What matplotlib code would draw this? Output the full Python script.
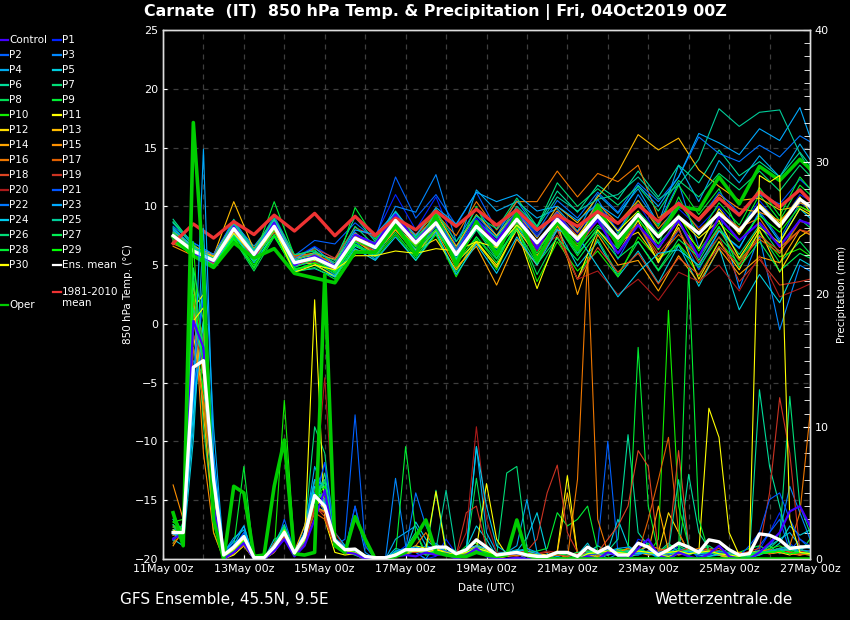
import matplotlib
matplotlib.use('Agg')
import matplotlib.pyplot as plt
from matplotlib.lines import Line2D
from matplotlib.ticker import MultipleLocator

# ---------------- data ----------------
# temperature: 12-hourly (06z/18z) from 11May 06z, last point 27May 00z ; days since 11May 00z
temp_days = [0.25 + 0.5 * i for i in range(32)] + [16.0]
# precipitation: 6-hourly from 11May 06z to 27May 00z
prcp_days = [0.25 + 0.25 * j for j in range(64)]

xtick_days = [0, 2, 4, 6, 8, 10, 12, 14, 16]
xtick_labels = ['11May 00z', '13May 00z', '15May 00z', '17May 00z', '19May 00z',
                '21May 00z', '23May 00z', '25May 00z', '27May 00z']

temp_mean = [7.5, 6.2, 5.4, 8.1, 5.9, 8.3, 5.2, 5.6, 4.8, 7.3, 6.5, 8.8, 6.9, 8.6, 5.9, 8.3,
             6.7, 8.9, 6.9, 8.9, 7.2, 9.2, 7.3, 9.3, 7.4, 9.1, 7.7, 9.4, 7.9, 10.0, 8.3, 10.6, 10.0]
temp_clim = [6.85, 8.5, 7.3, 8.7, 7.6, 9.25, 7.9, 9.4, 7.5, 9.15, 7.55, 9.0, 8.0, 9.6, 8.3, 9.75,
             8.4, 9.7, 8.0, 9.25, 8.3, 9.55, 8.55, 10.1, 8.7, 10.25, 8.85, 10.7, 9.25, 11.25, 9.95, 11.4, 10.5]
temp_oper = [7.4, 5.8, 4.8, 6.9, 5.6, 6.4, 4.3, 3.9, 3.5, 6.1, 6.1, 8.4, 5.9, 9.2, 5.0, 8.7,
             5.9, 9.4, 5.4, 8.7, 6.3, 10.1, 6.6, 9.4, 7.5, 10.0, 9.7, 12.5, 10.2, 13.4, 12.2, 14.0, 13.2]
temp_ctrl = [7.3, 6.0, 5.3, 8.3, 5.7, 8.6, 5.0, 5.8, 4.9, 7.6, 6.8, 9.3, 7.0, 8.9, 6.0, 8.8,
             7.0, 9.5, 6.4, 9.3, 7.0, 8.8, 6.0, 8.4, 6.5, 8.8, 5.7, 9.1, 7.1, 8.6, 6.6, 8.8, 8.5]
temp_p01 = [7.0, 6.0, 5.6, 8.4, 6.0, 8.8, 5.6, 6.6, 5.5, 8.0, 7.5, 11.0, 8.0, 10.8, 6.6, 9.0,
            7.0, 9.5, 7.6, 9.6, 7.7, 10.1, 8.0, 10.2, 7.6, 9.8, 8.2, 10.0, 8.0, 10.5, 8.4, 11.0, 10.5]
temp_p02 = [7.9, 6.6, 5.8, 8.7, 6.2, 9.2, 5.8, 7.1, 6.8, 8.6, 7.2, 12.5, 9.0, 11.0, 8.4, 11.2,
            8.0, 9.8, 6.6, 9.0, 6.0, 9.3, 5.5, 8.5, 5.2, 8.0, 4.6, 7.9, 6.4, 9.6, 7.2, 10.3, 9.8]
temp_p03 = [7.4, 6.4, 5.2, 7.8, 5.5, 8.0, 4.9, 5.3, 4.2, 7.0, 6.8, 10.0, 9.5, 12.7, 7.0, 9.8,
            7.5, 10.5, 8.0, 9.4, 7.0, 10.6, 7.7, 11.0, 8.5, 12.0, 6.5, 9.6, 3.0, 7.5, -0.5, 5.0, 4.5]
temp_p04 = [8.6, 6.9, 5.9, 8.6, 6.6, 8.8, 5.7, 5.9, 4.6, 7.8, 6.2, 9.0, 6.6, 8.4, 6.2, 11.4,
            9.6, 10.4, 9.0, 9.8, 7.9, 11.0, 9.4, 11.5, 8.5, 13.5, 10.4, 13.9, 12.0, 14.3, 12.5, 15.3, 14.0]
temp_p05 = [8.0, 6.3, 5.0, 7.6, 5.4, 7.9, 4.6, 5.0, 4.1, 6.6, 5.8, 8.2, 6.2, 7.9, 5.6, 8.0,
            6.4, 8.4, 5.6, 8.1, 4.9, 7.0, 4.0, 6.2, 3.5, 6.7, 3.2, 6.5, 1.2, 4.2, 1.8, 5.5, 5.0]
temp_p06 = [8.9, 6.7, 5.6, 8.9, 6.1, 8.5, 5.4, 6.1, 5.4, 9.1, 7.0, 9.6, 7.3, 9.2, 6.4, 8.7,
            7.4, 10.0, 8.3, 11.3, 9.5, 11.8, 10.6, 13.0, 10.8, 13.5, 12.0, 14.8, 12.6, 13.8, 12.5, 14.6, 13.5]
temp_p07 = [8.2, 6.5, 5.3, 8.0, 5.8, 8.2, 5.0, 5.6, 4.6, 7.1, 6.0, 8.5, 6.0, 8.0, 5.4, 8.0,
            5.6, 8.4, 6.2, 8.5, 6.0, 8.0, 6.4, 8.9, 6.8, 8.7, 5.4, 8.2, 5.9, 8.4, 6.0, 8.9, 8.2]
temp_p08 = [8.7, 6.8, 5.1, 7.2, 4.5, 7.4, 4.7, 5.0, 4.0, 7.4, 6.0, 8.2, 5.8, 7.6, 4.4, 7.4,
            5.5, 8.3, 4.2, 7.4, 3.8, 7.2, 4.2, 7.0, 4.5, 6.8, 4.8, 7.4, 5.5, 7.8, 5.2, 7.0, 6.0]
temp_p09 = [7.7, 6.1, 5.4, 8.2, 5.6, 10.4, 5.8, 6.3, 4.5, 9.9, 7.2, 9.4, 7.4, 9.8, 6.2, 10.0,
            6.4, 9.3, 5.5, 8.4, 5.8, 8.2, 7.6, 10.5, 8.3, 11.8, 9.3, 11.5, 7.8, 11.0, 8.8, 11.8, 11.0]
temp_p10 = [7.1, 5.9, 5.0, 7.4, 4.7, 8.0, 4.5, 5.2, 4.3, 6.8, 5.5, 7.6, 5.4, 7.6, 4.0, 7.2,
            4.6, 8.3, 3.6, 7.0, 4.5, 6.2, 4.0, 7.4, 5.5, 6.8, 4.1, 7.0, 5.1, 7.8, 5.7, 6.4, 5.8]
temp_p11 = [7.2, 6.2, 5.5, 8.0, 5.8, 7.9, 5.0, 5.4, 4.7, 7.0, 6.2, 8.4, 6.6, 8.4, 5.2, 7.0,
            5.0, 8.0, 3.0, 7.5, 3.8, 8.0, 6.0, 8.8, 5.2, 8.5, 6.4, 9.8, 7.6, 10.2, 8.6, 10.8, 9.5]
temp_p12 = [7.6, 6.4, 5.7, 8.3, 6.0, 8.5, 5.3, 5.1, 4.0, 6.3, 6.0, 8.0, 6.3, 7.2, 4.6, 6.9,
            4.8, 8.1, 5.8, 8.3, 6.6, 9.3, 7.0, 7.8, 5.4, 8.2, 3.8, 7.0, 4.6, 8.0, 4.4, 7.4, 8.0]
temp_p13 = [7.5, 6.3, 5.8, 10.4, 6.3, 8.6, 5.4, 6.0, 5.0, 7.7, 6.7, 9.0, 7.0, 9.4, 6.6, 9.3,
            7.5, 9.6, 7.3, 10.0, 8.6, 10.8, 12.9, 16.1, 14.8, 15.8, 13.1, 11.7, 10.5, 10.7, 9.7, 10.0, 9.5]
temp_p14 = [7.8, 6.6, 5.9, 8.5, 6.4, 8.9, 5.6, 5.8, 4.5, 7.1, 5.9, 8.0, 6.0, 7.9, 4.8, 6.6,
            3.3, 7.2, 5.0, 8.7, 2.5, 7.6, 5.0, 5.4, 2.8, 5.8, 3.5, 6.4, 4.2, 5.7, 5.2, 8.0, 7.6]
temp_p15 = [6.6, 5.8, 5.5, 8.3, 6.2, 8.2, 5.8, 6.0, 5.5, 7.5, 6.4, 8.2, 6.7, 8.3, 6.0, 8.5,
            6.5, 9.4, 7.4, 9.6, 7.8, 10.2, 8.6, 10.5, 8.1, 10.0, 9.0, 11.0, 9.8, 9.5, 8.8, 10.3, 10.0]
temp_p16 = [6.8, 6.1, 5.2, 8.0, 5.9, 8.5, 5.0, 5.5, 4.8, 7.3, 6.6, 8.3, 7.6, 9.4, 7.5, 10.4,
            8.0, 10.4, 10.4, 13.0, 10.8, 12.8, 12.1, 13.5, 9.0, 10.3, 8.0, 9.5, 8.2, 9.0, 6.5, 8.0, 7.6]
temp_p17 = [7.0, 6.0, 5.4, 7.8, 5.6, 7.8, 5.8, 5.9, 5.2, 7.2, 6.9, 8.6, 6.8, 8.0, 6.4, 8.1,
            6.9, 8.6, 6.4, 8.4, 6.5, 8.8, 6.7, 8.4, 5.7, 7.6, 5.8, 8.0, 5.4, 7.2, 6.0, 8.7, 8.6]
temp_p18 = [6.9, 6.2, 5.1, 7.9, 5.8, 8.3, 5.6, 6.4, 5.6, 8.2, 7.4, 9.2, 7.6, 9.0, 6.1, 8.5,
            6.9, 9.0, 5.3, 8.0, 3.8, 6.5, 4.4, 6.0, 3.4, 5.6, 4.2, 6.6, 5.0, 7.5, 6.2, 8.0, 7.8]
temp_p19 = [7.1, 6.3, 5.3, 8.1, 6.0, 8.0, 5.2, 5.6, 4.6, 7.2, 6.1, 8.6, 6.9, 8.5, 6.0, 8.4,
            6.8, 8.9, 6.5, 9.3, 7.5, 9.5, 6.9, 8.5, 6.0, 8.0, 5.2, 7.4, 3.6, 5.5, 3.3, 3.6, 3.8]
temp_p20 = [7.2, 6.1, 5.6, 8.0, 5.9, 8.4, 5.1, 5.3, 4.7, 7.0, 6.3, 8.9, 7.1, 8.9, 6.2, 8.6,
            7.1, 9.2, 6.2, 7.5, 3.8, 4.5, 2.5, 3.8, 2.0, 4.4, 3.6, 5.0, 2.8, 5.8, 2.3, 3.0, 3.4]
temp_p21 = [7.6, 6.3, 5.4, 8.2, 5.9, 8.3, 5.1, 5.6, 4.7, 7.3, 6.3, 8.8, 6.8, 9.1, 6.3, 9.2,
            7.3, 9.6, 7.4, 9.5, 7.2, 9.0, 6.7, 9.6, 7.7, 10.4, 8.7, 11.2, 9.4, 11.0, 10.2, 12.3, 11.5]
temp_p22 = [8.3, 6.9, 5.9, 8.8, 6.3, 8.6, 5.3, 5.8, 4.4, 7.0, 5.5, 8.6, 6.2, 8.3, 5.5, 8.2,
            6.2, 9.4, 7.8, 10.5, 9.0, 11.2, 9.5, 12.0, 10.4, 12.5, 15.9, 14.5, 13.8, 15.2, 14.2, 16.0, 15.5]
temp_p23 = [8.1, 6.5, 5.5, 8.5, 6.2, 8.9, 5.5, 6.5, 5.0, 8.0, 7.6, 9.5, 7.5, 9.9, 8.5, 11.2,
            10.4, 11.0, 9.6, 10.0, 8.8, 10.2, 9.0, 11.8, 10.0, 12.5, 16.2, 15.4, 14.4, 16.6, 15.6, 18.4, 15.9]
temp_p24 = [7.4, 6.0, 5.0, 7.7, 5.2, 7.6, 4.5, 4.7, 4.0, 6.4, 5.4, 7.4, 5.4, 7.8, 4.2, 6.8,
            4.3, 7.4, 5.0, 8.0, 7.5, 4.9, 2.3, 4.4, 6.0, 6.3, 5.0, 7.9, 6.5, 9.4, 7.0, 9.8, 9.0]
temp_p25 = [8.6, 6.6, 5.4, 8.3, 6.0, 8.4, 5.4, 6.0, 4.8, 7.6, 6.9, 9.1, 7.2, 9.0, 6.2, 8.8,
            7.3, 9.6, 8.2, 10.8, 9.6, 10.6, 11.0, 12.5, 10.6, 11.8, 14.0, 18.3, 16.8, 18.0, 18.2, 14.5, 13.0]
temp_p26 = [7.8, 6.4, 5.6, 8.6, 6.3, 9.0, 5.9, 6.2, 5.2, 8.3, 6.6, 9.0, 6.8, 9.5, 7.0, 9.2,
            8.1, 10.7, 8.3, 12.0, 10.0, 11.5, 10.1, 11.7, 9.6, 12.2, 10.8, 12.8, 11.4, 13.0, 11.3, 13.5, 12.6]
temp_p27 = [7.3, 5.9, 4.9, 7.5, 5.3, 8.0, 4.8, 5.5, 4.4, 6.8, 5.9, 8.2, 6.4, 8.0, 5.5, 8.1,
            5.9, 8.0, 5.1, 7.3, 5.4, 7.8, 5.6, 7.0, 4.6, 7.2, 5.7, 8.3, 4.8, 7.0, 4.5, 6.0, 5.6]
temp_p28 = [7.2, 5.7, 4.8, 7.2, 4.8, 7.6, 4.4, 4.8, 3.8, 6.7, 5.7, 7.8, 5.6, 8.1, 5.2, 7.4,
            5.2, 8.6, 6.0, 8.9, 6.4, 8.4, 7.1, 9.3, 6.8, 10.8, 7.5, 10.3, 8.4, 11.6, 9.2, 12.5, 11.5]
temp_p29 = [7.0, 5.8, 5.0, 7.3, 5.0, 7.5, 4.6, 5.2, 4.5, 7.0, 6.4, 8.2, 6.6, 8.7, 5.8, 8.5,
            6.0, 9.0, 6.9, 8.7, 6.8, 9.4, 7.4, 9.0, 6.3, 9.3, 6.2, 8.6, 7.0, 9.2, 7.8, 10.0, 9.6]
temp_p30 = [7.5, 6.2, 5.4, 7.7, 5.8, 8.1, 4.4, 5.0, 4.6, 5.8, 5.8, 6.2, 6.0, 6.4, 6.2, 7.0,
            6.5, 8.4, 6.8, 8.9, 7.4, 9.8, 7.9, 9.6, 6.4, 9.0, 7.3, 8.8, 5.6, 8.2, 6.9, 9.8, 9.3]

prcp_mean = [2.0, 2.0, 14.5, 15.0, 6.0, 0.3, 0.9, 1.7, 0.1, 0.1, 0.9, 2.0, 0.45, 1.7, 4.8, 4.0,
             1.4, 0.7, 0.75, 0.2, 0.1, 0.1, 0.3, 0.7, 0.7, 0.7, 0.9, 0.9, 0.4, 0.7, 1.45, 0.9,
             0.3, 0.4, 0.5, 0.3, 0.2, 0.2, 0.5, 0.5, 0.2, 0.9, 0.5, 0.9, 0.3, 0.3, 1.2, 0.9,
             0.3, 0.7, 1.2, 0.9, 0.5, 1.45, 1.3, 0.7, 0.3, 0.4, 1.9, 1.8, 1.45, 0.8, 0.9, 0.95]
prcp_oper = [3.5, 1.0, 33, 22, 3, 0, 5.5, 5, 0.2, 0.3, 5.5, 9, 0.4, 0.3, 0.5, 21.5,
             1, 0.5, 3.2, 1.5, 0, 0, 0.2, 0.5, 1.7, 2.95, 0.5, 0.3, 0.2, 0.2, 0.5, 0.3,
             0.2, 0.3, 2.95, 0.3, 0, 0, 0, 0, 0, 0, 0, 0, 0, 0, 0, 0,
             0, 0, 0, 0, 0, 0, 0, 0, 0, 0, 0, 0, 0, 0, 0, 0]
prcp_ctrl = [1.5, 2, 18, 16, 4, 0, 0.5, 1.2, 0, 0, 0.6, 1.5, 0.2, 1, 3, 5.2,
             1, 0.5, 0.4, 0, 0, 0, 0.2, 0.3, 0.2, 0.5, 0.3, 0.4, 0, 0.3, 0.8, 0.2,
             0, 0, 0.1, 0, 0, 0, 0, 0, 0, 0.2, 0, 0.5, 0.3, 0, 0.8, 1.5,
             0.3, 0, 0.5, 0.2, 0, 0.4, 1, 0.2, 0, 0, 0.5, 1.2, 2, 3.6, 4, 2.5]
prcp_p01 = [2.5, 1.5, 12, 20, 8, 0.3, 1, 2, 0, 0, 1.2, 2.5, 0.4, 2, 4, 7.3,
            2, 1, 0.5, 0, 0, 0, 0.4, 1, 0.5, 0, 0.2, 1.5, 0.4, 0.3, 0.6, 0.4,
            0, 0, 0, 0, 0.2, 0, 0, 0, 0, 0, 0, 0.4, 0.6, 0, 1.5, 1.2,
            0, 0.4, 1, 0.6, 0.2, 0.3, 0.5, 0, 0, 0.3, 0.7, 2, 3.5, 1.2, 0.5, 0.3]
prcp_p02 = [1.8, 2.2, 15, 14, 3, 0, 0.8, 2, 0, 0, 0.5, 3, 0.6, 1.5, 5, 3.5,
            1, 1.5, 10.9, 1, 0, 0, 0.6, 0.3, 0.6, 1, 0.8, 0.3, 0.2, 0.4, 0.8, 0.3,
            0.2, 0.3, 0.4, 0, 0, 0, 0, 0.2, 0, 0.3, 1, 8.9, 0.5, 0.2, 0.4, 0.6,
            0, 0.3, 0.5, 1, 0, 0.5, 0.4, 0, 0, 0, 1, 2, 3, 0.6, 1.5, 0.8]
prcp_p03 = [2.2, 1.6, 13, 17, 6, 0.4, 1.3, 1.5, 0, 0.2, 0.8, 2, 0.3, 2.5, 6, 4,
            1.5, 0.6, 4, 0.5, 0, 0, 6.1, 1, 0.5, 0, 1.2, 0.5, 0.2, 0.5, 0.8, 0.4,
            0.3, 0.2, 0.3, 0.5, 0, 0, 0, 0, 0, 0.6, 0, 0.8, 0.2, 0, 0.5, 1,
            0, 0, 0.7, 0.6, 0.5, 0.8, 0.3, 0, 0.2, 0, 0.4, 1, 2, 5.5, 3.5, 1.5]
prcp_p04 = [3, 2, 10, 25, 10, 0.5, 1.6, 2.2, 0, 0, 1, 2.2, 0.5, 2, 7, 5,
            1.2, 0.8, 0.6, 0, 0, 0, 1.5, 2, 2.5, 1, 0.6, 0.8, 0.5, 0.7, 8.5, 2,
            0.5, 0.5, 1, 4.5, 0.5, 0, 0.2, 0, 0, 0.5, 0.6, 0, 0.4, 0.3, 0.5, 1,
            0.3, 0.5, 0.6, 0.4, 0.5, 0.2, 0.3, 0, 0, 0.2, 0.4, 1, 1.5, 2, 1, 0.8]
prcp_p05 = [1.5, 1, 9, 22, 7, 0.2, 1, 2.5, 0, 0, 1.5, 1.8, 0.3, 1.6, 5, 4,
            2, 1, 0.3, 0, 0, 0, 0.8, 0.6, 2.8, 1.5, 0.8, 0.6, 0.4, 0.8, 2.5, 1.5,
            0.2, 0.4, 0.6, 1.6, 3.5, 0.4, 0, 0, 0.3, 1.2, 0, 0.6, 3, 1, 0.5, 0.4,
            0.2, 0.5, 0.8, 0.6, 0.3, 0.2, 0.4, 0.2, 0, 0.1, 0.3, 0.6, 1.2, 2.5, 1.8, 2.2]
prcp_p06 = [1.4, 2.5, 16, 13, 5, 0, 0.6, 1, 0, 0, 1.2, 2.6, 0.6, 1, 3.8, 6.5,
            1.5, 0.5, 0.4, 0, 0, 0, 0.3, 0.5, 0.8, 0.4, 0.5, 0.9, 0.6, 0.4, 1, 0.8,
            0, 0.3, 0.5, 0.4, 0.2, 0, 0, 0, 0, 0.5, 1, 0.6, 1.5, 9.4, 2, 1,
            0.5, 1.2, 0.5, 6.4, 2, 0.8, 0.6, 0, 0, 0.2, 12.8, 7, 4, 1, 0.5, 0.4]
prcp_p07 = [2.6, 1.2, 14, 18, 5, 0, 0.4, 1.8, 0, 0, 0.8, 1.5, 0.3, 2, 10, 8,
            1.5, 0.6, 0.8, 0.3, 0, 0, 0.5, 0.8, 2, 0.3, 5.2, 0.8, 0.2, 0.4, 1, 0.6,
            0.3, 6.5, 7, 0.8, 0.2, 0, 0, 0, 0, 0.3, 0.5, 0.4, 0.5, 0.2, 0.3, 0.6,
            0.2, 0, 0.4, 0.3, 0.6, 1, 0.5, 0, 0.2, 0.4, 0.3, 0.8, 1.5, 12.3, 4, 2]
prcp_p08 = [1.2, 2.8, 22, 10, 3, 0, 0.7, 1, 0, 0, 0.5, 2, 0.5, 1.4, 4, 3.5,
            1, 0.5, 0.3, 0, 0, 0, 0.2, 0.4, 0.6, 0.3, 0.4, 0.8, 0.3, 0.5, 6.1, 1,
            0, 0.4, 0.6, 0.3, 0, 0, 0, 0.2, 0, 0.6, 0.5, 0.3, 0.8, 0.4, 0.5, 1.2,
            0.4, 0.2, 0.5, 0.3, 0.7, 0.6, 0.4, 0.8, 0.3, 0.2, 0.6, 1, 0.4, 0.8, 0.5, 1.5]
prcp_p09 = [3.5, 1.8, 20, 15, 4, 0.2, 1, 7, 0, 0, 1, 2.2, 0.4, 1.2, 5, 6,
            1, 0.4, 0.5, 0.2, 0, 0, 0.3, 8.5, 2, 0.5, 0.6, 0.4, 0.3, 1, 1.2, 0.5,
            0.2, 0.3, 0.4, 0.5, 0.6, 0.8, 3.5, 2.5, 3, 4, 0.6, 0.4, 0.8, 0.6, 16, 4,
            0.5, 1, 1, 0.6, 0.5, 0.8, 0.6, 0.4, 0.5, 0.8, 1, 0.6, 0.8, 0.4, 0.5, 0.6]
prcp_p10 = [2.8, 3, 24, 12, 2, 0, 0.5, 1.5, 0, 0, 0.6, 12, 0.8, 1, 6, 4.5,
            1, 0.8, 0.5, 0, 0, 0, 0.4, 0.6, 1, 0.5, 0.4, 0.3, 0.2, 0.5, 1, 0.6,
            0.3, 0.5, 0.3, 0.4, 0.4, 0, 0.5, 0, 0.3, 0.4, 0.3, 0.4, 0.6, 0.8, 0.6, 0.4,
            1.5, 18.8, 4, 1, 0.5, 0.6, 0.4, 0.3, 0.2, 0.4, 0.5, 0.8, 1, 0.6, 0.4, 0.3]
prcp_p11 = [2, 1.4, 19, 20, 6, 0, 0.3, 1, 0, 0, 0.5, 1.6, 0.3, 1.2, 19.6, 3,
            0.5, 0.3, 0.4, 0, 0, 0, 0.2, 0.6, 1, 0.8, 5.1, 0.5, 0.3, 0.4, 0.8, 5.7,
            1.5, 0.3, 0.5, 0.2, 0.4, 0.3, 0.6, 6.3, 0.3, 0.2, 0.1, 0.4, 0.6, 0.3, 0.5, 0.4,
            0.3, 0.2, 0.4, 0.6, 0.5, 11.4, 9.2, 2, 0.3, 0.5, 0.6, 0.4, 0.5, 0.3, 0.6, 0.4]
prcp_p12 = [1.8, 2, 17, 12, 5, 0.3, 0.8, 1.3, 0, 0, 1, 2, 0.4, 1.5, 4.5, 3.8,
            1, 0.4, 0.5, 0, 0, 0, 0.4, 0.5, 0.5, 0.7, 0.9, 0.6, 0.2, 0.5, 1, 0.7,
            0, 0.3, 0.5, 0.2, 0, 0, 0, 0, 0, 0.4, 0.5, 0.3, 0.7, 0.2, 0.4, 0.6,
            0.5, 3.5, 2, 0.5, 0.4, 0.7, 0.5, 0, 0.2, 0.3, 0.4, 0.6, 0.8, 0.5, 0.3, 0.6]
prcp_p13 = [1.5, 2.4, 21, 14, 4, 0, 0.4, 1.6, 0, 0, 0.9, 1.9, 0.6, 2.5, 5, 4,
            1.2, 0.7, 0.4, 0, 0, 0, 0.3, 0.5, 0.7, 0.6, 0.8, 0.5, 0.3, 0.6, 1, 0.4,
            0, 0.2, 0.3, 0.4, 0.2, 0, 0.5, 5, 0.4, 0.3, 0.2, 0.4, 0.5, 0.6, 0.5, 0.3,
            0.4, 0.6, 0.3, 0.5, 0.8, 0.5, 0.3, 0.2, 0.2, 0.3, 0.5, 0.4, 0.6, 0.8, 0.4, 0.3]
prcp_p14 = [1, 2.2, 20, 11, 3, 0, 0.6, 1, 0, 0, 0.7, 2.4, 0.5, 1.3, 4, 3.6,
            1, 0.6, 0.5, 0, 0, 0, 0.3, 0.4, 0.6, 0.5, 0.4, 0.3, 0.2, 0.5, 0.6, 0.5,
            0.2, 0.4, 0.3, 0.2, 0, 0, 0, 0, 0, 0.3, 0.4, 0.5, 0.3, 0.6, 0.4, 0.5,
            4, 0.6, 0.5, 0.4, 0.7, 0.5, 0.3, 0, 0.2, 0.3, 0.4, 0.5, 0.6, 0.4, 0.3, 0.5]
prcp_p15 = [5.6, 3, 20, 8, 2, 0, 0.5, 1.2, 0, 0, 0.6, 2, 0.4, 1.6, 4.5, 5,
            1.3, 0.9, 0.4, 0, 0, 0, 0.2, 0.4, 0.6, 0.4, 0.5, 0.6, 0.3, 0.4, 0.8, 0.5,
            0.3, 0.2, 0.4, 0.5, 0.4, 0.2, 0.3, 0.2, 0.5, 0.4, 0.3, 0.6, 0.5, 0.8, 0.6, 1,
            0.8, 0.6, 0.4, 0.7, 0.5, 0.8, 0.6, 0.4, 0.5, 0.4, 0.6, 0.7, 0.5, 0.4, 0.6, 0.5]
prcp_p16 = [2.5, 1.8, 18, 14, 6, 0.3, 0.8, 1.6, 0, 0, 1.2, 2, 0.5, 1.5, 4, 3.5,
            1.4, 0.7, 0.6, 0, 0, 0, 0.4, 0.5, 1, 2, 0.6, 0.4, 0.2, 0.5, 0.7, 0.4,
            0.3, 0.5, 0.6, 0.3, 0.2, 0, 0.5, 0, 6, 22.8, 3, 0.5, 0.4, 0.8, 0.6, 0.5,
            0.3, 0.4, 0.5, 0.6, 0.8, 0.5, 0.4, 0.3, 0.2, 0.3, 0.4, 0.5, 0.8, 1, 3.5, 10.9]
prcp_p17 = [1.2, 2, 16, 12, 5, 0, 0.6, 1, 0, 0, 0.8, 1.8, 0.4, 1.2, 3.5, 3,
            1, 0.5, 0.4, 0, 0, 0, 0.3, 0.4, 0.8, 0.6, 0.5, 0.3, 0.2, 0.4, 0.6, 0.5,
            0.2, 0.3, 0.2, 0.4, 0.3, 0, 0, 0, 0, 0.5, 0.4, 0.6, 0.3, 0.5, 0.4, 3,
            6, 9.2, 2, 0.5, 0.4, 0.6, 0.8, 0.3, 0.2, 0.3, 0.5, 0.4, 0.6, 0.5, 0.3, 0.4]
prcp_p18 = [2, 1.5, 19, 17, 5, 0.4, 0.7, 1.4, 0, 0, 0.5, 1.7, 0.5, 1.1, 4, 3.2,
            1, 0.6, 0.5, 0, 0, 0, 0.4, 0.6, 0.6, 0.4, 0.5, 0.3, 0.4, 0.6, 0.8, 0.5,
            0.4, 0.3, 0.5, 0.6, 0.4, 0.5, 0.3, 0.2, 0.4, 0.6, 0.5, 1.5, 2.5, 4, 8.2, 7,
            0.6, 0.8, 8.2, 1, 0.5, 0.6, 0.4, 0.3, 0.2, 0.4, 0.5, 0.6, 0.8, 0.5, 0.4, 0.6]
prcp_p19 = [1.8, 2.3, 17, 15, 5, 0, 0.5, 1.2, 0, 0, 0.9, 2.2, 0.4, 1.5, 3.8, 3.5,
            1.2, 0.5, 0.4, 0, 0, 0, 0.2, 0.5, 0.5, 0.6, 0.4, 0.5, 0.3, 3.5, 4, 0.8,
            0.3, 0.4, 0.5, 0.6, 1.5, 5, 7.1, 2, 0.5, 0.3, 0.4, 0.5, 0.6, 0.4, 0.5, 0.6,
            0.4, 0.5, 0.6, 0.8, 0.5, 0.7, 0.6, 0.4, 0.3, 0.6, 0.8, 5, 12.2, 8, 0.6, 0.5]
prcp_p20 = [2.4, 2, 20, 16, 5, 0.3, 0.8, 1.5, 0, 0, 1, 2, 0.5, 1.2, 5, 13.7,
            2, 0.8, 0.5, 0, 0, 0, 0.4, 0.6, 0.7, 0.5, 0.6, 0.4, 0.3, 2, 10, 3,
            0.5, 0.3, 0.4, 0.5, 0.4, 0.6, 0.5, 0.3, 0.4, 0.5, 0.6, 0.4, 0.3, 0.5, 0.4, 0.6,
            0.5, 0.4, 0.6, 0.5, 0.7, 0.8, 0.5, 0.4, 0.3, 0.4, 0.5, 0.6, 0.8, 0.4, 0.5, 0.6]
prcp_p21 = [1.6, 1.8, 13, 16, 5, 0.2, 0.6, 1.3, 0, 0, 0.7, 2, 0.4, 1.5, 4.5, 7.3,
            1.5, 0.6, 4, 1, 0, 0, 0.3, 0.5, 0.6, 0.4, 0.5, 0.4, 0.2, 0.5, 0.7, 0.4,
            0.2, 0.3, 0.4, 0.2, 0, 0, 0, 0, 0, 0.3, 0.4, 0.6, 0.5, 0.4, 0.3, 0.6,
            0.4, 0.5, 0.6, 0.5, 0.4, 0.3, 0.6, 0.4, 0.2, 1, 2, 4.5, 5, 3, 1.5, 1]
prcp_p22 = [2, 1.6, 14, 20, 7, 0.3, 1.1, 1.8, 0, 0, 0.9, 2.1, 0.5, 1.8, 5, 4.5,
            1.2, 0.8, 0.5, 0, 0, 0, 0.5, 0.7, 5, 2.5, 0.9, 0.6, 0.3, 0.5, 0.8, 0.6,
            0.3, 0.5, 0.4, 0.3, 0.2, 0, 0, 0, 0, 0.4, 0.5, 0.7, 0.6, 0.5, 0.4, 0.6,
            0.5, 0.6, 0.4, 0.5, 0.6, 0.4, 0.5, 0.3, 0.2, 0.3, 0.4, 0.6, 0.8, 0.9, 0.7, 0.6]
prcp_p23 = [2, 1.7, 12, 31, 8, 0.5, 1.4, 2.5, 0, 0, 1.1, 2.3, 0.6, 1.9, 6, 5.5,
            1.6, 0.9, 0.6, 0, 0, 0, 0.6, 0.8, 0.9, 0.7, 0.8, 0.9, 0.4, 0.8, 1, 0.8,
            0.3, 0.4, 0.6, 0.8, 0.5, 0, 0, 0, 0, 0.4, 0.5, 0.6, 0.8, 0.9, 0.5, 0.4,
            0.3, 0.6, 0.5, 0.4, 0.7, 0.5, 0.4, 0.3, 0.2, 0.4, 0.5, 0.6, 0.7, 0.8, 0.5, 0.4]
prcp_p24 = [1.9, 1.5, 11, 18, 5, 0.2, 0.9, 1.7, 0, 0, 0.8, 1.9, 0.4, 1.3, 5.5, 4.2,
            1.4, 0.7, 0.5, 0, 0, 0, 0.4, 0.5, 0.6, 0.5, 0.6, 0.5, 0.3, 0.6, 8.5, 4,
            1, 0.5, 0.7, 0.6, 0.4, 0, 0, 0, 0, 0.5, 0.4, 0.3, 0.5, 0.6, 0.4, 0.5,
            0.3, 0.4, 0.5, 0.6, 0.4, 0.5, 0.3, 0.4, 0.2, 0.3, 0.4, 0.5, 0.6, 0.7, 0.8, 0.9]
prcp_p25 = [2.2, 2.5, 18, 15, 5, 0.3, 0.8, 1.5, 0, 0, 1, 2.5, 0.6, 1.6, 4.8, 6,
            1.3, 0.7, 0.5, 0, 0, 0, 0.5, 0.7, 0.7, 0.6, 0.7, 5.2, 0.4, 0.5, 0.9, 0.6,
            0.4, 0.5, 0.6, 0.4, 0.3, 0, 0, 0, 0, 0.5, 0.6, 0.4, 0.5, 0.6, 0.8, 0.5,
            0.4, 0.6, 6, 0.8, 0.5, 0.4, 0.6, 0.5, 0.3, 0.4, 0.5, 0.6, 0.8, 1, 0.7, 0.5]
prcp_p26 = [3, 2, 19, 16, 4, 0, 0.7, 1.1, 0, 0, 0.9, 2, 0.5, 1.4, 4.5, 5,
            1.1, 0.6, 0.4, 0, 0, 0, 0.3, 0.5, 0.6, 0.5, 0.6, 0.4, 0.3, 0.5, 0.7, 0.5,
            0.3, 0.4, 0.5, 0.4, 0.3, 0, 0, 0, 0, 0.4, 0.5, 0.6, 0.5, 0.4, 0.6, 0.5,
            0.4, 0.5, 0.6, 0.4, 0.5, 0.6, 0.4, 0.3, 0.2, 0.3, 0.4, 0.5, 0.6, 0.7, 0.5, 0.4]
prcp_p27 = [2.6, 1.9, 22, 18, 4, 0, 0.6, 1.4, 0, 0, 1, 2.4, 0.5, 1.5, 4.6, 5.8,
            1.2, 0.7, 0.5, 0, 0, 0, 0.4, 0.6, 0.7, 0.6, 0.5, 0.4, 0.3, 0.6, 0.8, 0.5,
            0.3, 0.4, 0.5, 0.4, 0.3, 0.2, 0.4, 0.3, 0.5, 0.6, 0.5, 0.4, 0.6, 0.5, 0.7, 0.5,
            0.4, 0.6, 0.5, 0.7, 0.6, 0.5, 0.4, 0.3, 0.3, 0.4, 0.6, 0.5, 0.6, 0.4, 0.5, 0.4]
prcp_p28 = [2.4, 2.1, 21, 16, 5, 0.2, 0.5, 1.3, 0, 0, 0.8, 2.2, 0.5, 1.4, 4.4, 5,
            1.1, 0.6, 0.5, 0, 0, 0, 0.3, 0.5, 0.6, 0.5, 0.6, 0.5, 0.3, 0.5, 0.7, 0.5,
            0.3, 0.4, 0.5, 0.4, 0.3, 0, 0, 0, 0, 0.4, 0.5, 0.6, 0.5, 0.4, 0.6, 0.5,
            0.4, 0.5, 0.6, 22, 3, 0.5, 0.4, 0.3, 0.2, 0.3, 0.4, 0.5, 0.6, 0.4, 0.5, 0.4]
prcp_p29 = [2.8, 2.2, 20, 15, 4, 0, 0.6, 1.5, 0, 0, 0.9, 2.1, 0.5, 1.5, 4.5, 5.5,
            1.2, 0.7, 0.5, 0, 0, 0, 0.4, 0.6, 0.7, 0.6, 0.5, 0.4, 0.3, 0.5, 0.7, 0.5,
            0.3, 0.4, 0.5, 0.4, 0.3, 0, 0, 0, 0, 0.4, 0.5, 0.6, 0.5, 0.4, 0.6, 0.5,
            0.4, 0.5, 0.6, 0.4, 0.5, 0.6, 0.4, 0.3, 0.2, 0.3, 0.4, 0.5, 0.6, 0.4, 0.5, 0.4]
prcp_p30 = [2.2, 1.8, 18, 19, 5, 0.2, 0.7, 1.5, 0, 0, 0.8, 2.2, 0.5, 1.4, 4.5, 4,
            1.2, 0.6, 0.5, 0, 0, 0, 0.4, 0.5, 0.6, 0.5, 0.7, 0.5, 0.3, 0.5, 0.8, 0.6,
            0.3, 0.4, 0.5, 0.4, 0.3, 0, 0, 0, 0, 0.4, 0.5, 0.6, 0.5, 0.4, 0.6, 0.5,
            0.4, 0.5, 0.6, 0.4, 0.5, 0.6, 0.4, 0.3, 0.2, 0.5, 29, 28.5, 29, 3, 0.5, 0.4]

member_names = ['P%d' % k for k in range(1, 31)]
member_colors = ['#0022ff', '#0060ff', '#0088ff', '#00aaee', '#00ccdd', '#00dd99', '#00dd77',
                 '#00dd55', '#00ee33', '#11ee00', '#ffff00', '#ffdd00', '#ffbb00', '#ffa500',
                 '#ff9000', '#ee7700', '#e06000', '#dd4422', '#cc3322', '#aa1a1a', '#0055ff',
                 '#0077ff', '#00aaff', '#00ccee', '#00cc99', '#00dd77', '#00ee55', '#00ee33',
                 '#00ff00', '#ffff00']
ctrl_color = '#4400ff'
mean_color = '#ffffff'
clim_color = '#ee3333'
oper_color = '#00cc00'

member_temps = [temp_p01, temp_p02, temp_p03, temp_p04, temp_p05, temp_p06, temp_p07, temp_p08,
                temp_p09, temp_p10, temp_p11, temp_p12, temp_p13, temp_p14, temp_p15, temp_p16,
                temp_p17, temp_p18, temp_p19, temp_p20, temp_p21, temp_p22, temp_p23, temp_p24,
                temp_p25, temp_p26, temp_p27, temp_p28, temp_p29, temp_p30]
member_prcps = [prcp_p01, prcp_p02, prcp_p03, prcp_p04, prcp_p05, prcp_p06, prcp_p07, prcp_p08,
                prcp_p09, prcp_p10, prcp_p11, prcp_p12, prcp_p13, prcp_p14, prcp_p15, prcp_p16,
                prcp_p17, prcp_p18, prcp_p19, prcp_p20, prcp_p21, prcp_p22, prcp_p23, prcp_p24,
                prcp_p25, prcp_p26, prcp_p27, prcp_p28, prcp_p29, prcp_p30]

# ---------------- figure ----------------
W, H = 850, 620
fig = plt.figure(figsize=(W / 100, H / 100), dpi=100, facecolor='black')
ax = fig.add_axes([163 / W, 1 - 559 / H, (810 - 163) / W, (559 - 30) / H])
ax.set_facecolor('black')
ax2 = ax.twinx()

ax.set_xlim(0, 16)
ax.set_ylim(-20, 25)
ax2.set_ylim(0, 40)

# temperature spaghetti
for s, c in zip(member_temps, member_colors):
    ax.plot(temp_days, s, color=c, lw=0.8)
ax.plot(temp_days, temp_ctrl, color=ctrl_color, lw=1.6)
ax.plot(temp_days, temp_oper, color=oper_color, lw=2.6)
ax.plot(temp_days, temp_clim, color=clim_color, lw=2.4)
ax.plot(temp_days, temp_mean, color=mean_color, lw=2.4)

# precipitation spaghetti
for s, c in zip(member_prcps, member_colors):
    ax2.plot(prcp_days, s, color=c, lw=0.8)
ax2.plot(prcp_days, prcp_ctrl, color=ctrl_color, lw=1.6)
ax2.plot(prcp_days, prcp_oper, color=oper_color, lw=2.6)
ax2.plot(prcp_days, prcp_mean, color=mean_color, lw=2.4)

# axes styling
ax.set_xticks(xtick_days)
ax.set_xticklabels(xtick_labels)
ax.xaxis.set_minor_locator(MultipleLocator(1))
ax.yaxis.set_major_locator(MultipleLocator(5))
ax.grid(True, which='both', axis='x', color='#3e3e3e', lw=0.9, ls=(0, (4, 4)))
ax.grid(True, which='major', axis='y', color='#3e3e3e', lw=0.9, ls=(0, (4, 4)))
ax.set_axisbelow(True)
ax.tick_params(axis='both', which='both', colors='white', labelsize=8, direction='in', length=3)
ax.tick_params(axis='x', which='minor', length=0)
ax2.yaxis.set_major_locator(MultipleLocator(10))
ax2.yaxis.set_minor_locator(MultipleLocator(1))
ax2.tick_params(axis='y', which='both', colors='white', labelsize=8, direction='in')
ax2.tick_params(axis='y', which='major', length=5)
ax2.tick_params(axis='y', which='minor', length=4)
for a in (ax, ax2):
    for sp in a.spines.values():
        sp.set_color('#dddddd')
        sp.set_linewidth(1)

ax.set_ylabel('850 hPa Temp. (°C)', color='white', fontsize=7.5, labelpad=1)
ax2.set_ylabel('Precipitation (mm)', color='white', fontsize=7.5, labelpad=6)
ax.set_xlabel('Date (UTC)', color='white', fontsize=7.5, labelpad=6)

fig.text(435 / W, 1 - 12 / H, 'Carnate  (IT)  850 hPa Temp. & Precipitation | Fri, 04Oct2019 00Z',
         color='white', fontsize=11.4, fontweight='bold', ha='center', va='center')
fig.text(120 / W, 1 - 599 / H, 'GFS Ensemble, 45.5N, 9.5E', color='white', fontsize=11,
         ha='left', va='center')
fig.text(793 / W, 1 - 599 / H, 'Wetterzentrale.de', color='white', fontsize=11,
         ha='right', va='center')

# legend (two columns, outside left)
def legend_entry(x0, y, color, label):
    fig.add_artist(Line2D([x0 / W, (x0 + 8) / W], [1 - y / H, 1 - y / H], color=color, lw=1.6))
    fig.text((x0 + 9) / W, 1 - y / H, label, color='white', fontsize=7.5, ha='left', va='center')

entries = [('Control', ctrl_color)] + list(zip(member_names, member_colors)) + [('Ens. mean', mean_color)]
for k, (lab, col) in enumerate(entries):
    row, colm = divmod(k, 2)
    legend_entry(0 if colm == 0 else 53, 40 + 15 * row, col, lab)
fig.add_artist(Line2D([53 / W, 61 / W], [1 - 292 / H] * 2, color=clim_color, lw=1.6))
fig.text(62 / W, 1 - 292 / H, '1981-2010', color='white', fontsize=7.5, ha='left', va='center')
fig.text(62 / W, 1 - 303 / H, 'mean', color='white', fontsize=7.5, ha='left', va='center')
legend_entry(0, 305, oper_color, 'Oper')

fig.savefig('out.png', dpi=100, facecolor='black')
